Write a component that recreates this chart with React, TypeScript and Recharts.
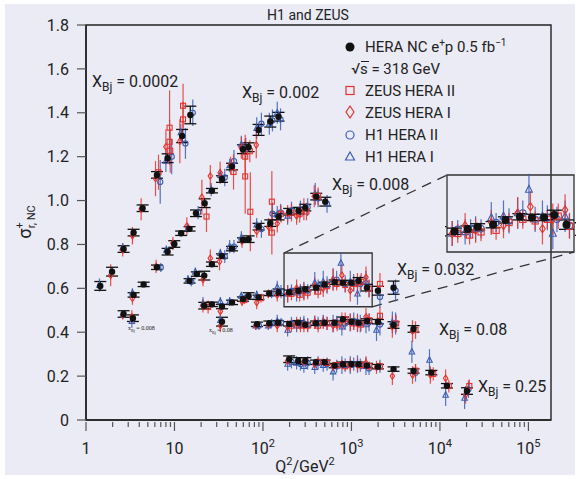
import React from 'react';
import {
  ScatterChart,
  Scatter,
  XAxis,
  YAxis,
  ErrorBar,
  ReferenceArea,
  ReferenceLine,
} from 'recharts';

type Pt = [number, number, number]; // Q2, sigma_r, error

// combined HERA NC e+p (black), grouped by x_Bj bin
const heraNC: Pt[] = [
  // 0.0002
  [1.45, 0.611, 0.02], [1.97, 0.676, 0.02], [2.66, 0.779, 0.015], [3.45, 0.854, 0.015], [4.36, 0.965, 0.015],
  [6.34, 1.117, 0.015], [8.36, 1.193, 0.02], [12.2, 1.294, 0.03], [15.1, 1.39, 0.04],
  // 0.002
  [3.45, 0.57, 0.01], [4.48, 0.618, 0.01], [6.34, 0.696, 0.01], [8.36, 0.767, 0.015], [9.95, 0.802, 0.015],
  [11.9, 0.851, 0.01], [14.8, 0.871, 0.01], [17.5, 0.942, 0.015], [21.9, 0.988, 0.02], [26.5, 1.045, 0.01],
  [34.4, 1.098, 0.015], [44.7, 1.155, 0.015], [59.4, 1.234, 0.02], [68.8, 1.243, 0.02], [89.2, 1.322, 0.025],
  [121, 1.36, 0.025], [150, 1.382, 0.02],
  // 0.008
  [2.66, 0.483, 0.015], [3.39, 0.464, 0.015], [14.8, 0.634, 0.01], [17.9, 0.665, 0.01], [21.7, 0.658, 0.02],
  [26.5, 0.71, 0.01], [34.4, 0.747, 0.01], [44.7, 0.781, 0.01], [59.4, 0.82, 0.01], [68.8, 0.824, 0.015],
  [89.2, 0.881, 0.015], [121, 0.897, 0.015], [150, 0.927, 0.015], [198, 0.949, 0.015], [252, 0.954, 0.015],
  [301, 0.968, 0.015], [400, 1.018, 0.015], [506, 0.995, 0.02],
  // 0.032
  [21.7, 0.521, 0.015], [26.5, 0.527, 0.01], [34.4, 0.517, 0.01], [44.7, 0.536, 0.01], [59.4, 0.551, 0.01],
  [68.8, 0.565, 0.015], [89, 0.559, 0.01], [118, 0.577, 0.01], [150, 0.582, 0.015], [198, 0.582, 0.01],
  [252, 0.589, 0.01], [301, 0.596, 0.01], [398, 0.603, 0.01], [497, 0.618, 0.01], [645, 0.628, 0.01],
  [802, 0.626, 0.01], [1000, 0.626, 0.01], [1203, 0.634, 0.015], [1497, 0.603, 0.015], [1992, 0.589, 0.02],
  [2990, 0.603, 0.03],
  // 0.08
  [34.4, 0.448, 0.02], [85.5, 0.436, 0.01], [118, 0.441, 0.01], [148, 0.443, 0.01], [198, 0.438, 0.01],
  [250, 0.443, 0.01], [301, 0.434, 0.01], [398, 0.441, 0.01], [497, 0.443, 0.01], [645, 0.443, 0.01],
  [802, 0.459, 0.01], [1000, 0.448, 0.01], [1203, 0.443, 0.01], [1497, 0.451, 0.01], [1992, 0.448, 0.01],
  [2990, 0.433, 0.015], [5030, 0.415, 0.015],
  // 0.25
  [198, 0.277, 0.015], [250, 0.269, 0.015], [301, 0.269, 0.015], [398, 0.263, 0.01], [497, 0.263, 0.01],
  [645, 0.248, 0.01], [802, 0.254, 0.01], [1000, 0.255, 0.01], [1203, 0.254, 0.01], [1497, 0.248, 0.01],
  [1992, 0.243, 0.01], [2990, 0.232, 0.01], [5030, 0.223, 0.01], [8000, 0.216, 0.01], [12000, 0.156, 0.01],
  [20200, 0.132, 0.015],
];

const zeusHera2: Pt[] = [
  [12.5, 1.432, 0.1], [12.5, 1.37, 0.08], [8.8, 1.332, 0.17], [8.8, 1.268, 0.1], [8.95, 1.227, 0.1], [6.6, 1.129, 0.08],
  [23, 0.927, 0.07], [46.5, 1.13, 0.08], [63, 1.2, 0.1], [63, 1.11, 0.17], [71, 1.225, 0.05],
  [72, 0.949, 0.18], [126, 0.995, 0.14], [126, 0.854, 0.1], [160, 0.94, 0.04], [210, 0.945, 0.04],
  [260, 0.94, 0.04], [310, 0.95, 0.04], [420, 1.02, 0.04],
  [24, 0.515, 0.03], [62, 0.548, 0.02], [95, 0.555, 0.02], [210, 0.575, 0.03], [260, 0.57, 0.03],
  [320, 0.58, 0.03], [420, 0.585, 0.03], [530, 0.61, 0.03], [680, 0.62, 0.03], [850, 0.615, 0.03],
  [1060, 0.62, 0.03], [1290, 0.63, 0.04], [1580, 0.598, 0.04], [2100, 0.62, 0.05],
  [210, 0.43, 0.03], [265, 0.43, 0.03], [320, 0.43, 0.03], [420, 0.43, 0.03], [530, 0.44, 0.03],
  [690, 0.435, 0.03], [850, 0.46, 0.03], [1060, 0.44, 0.03], [1280, 0.435, 0.03], [1590, 0.455, 0.03],
  [2100, 0.475, 0.04], [3200, 0.44, 0.04], [5300, 0.41, 0.04],
  [420, 0.265, 0.02], [530, 0.26, 0.02], [690, 0.25, 0.02], [850, 0.245, 0.02], [1280, 0.25, 0.02],
  [1590, 0.245, 0.02], [2100, 0.245, 0.02], [5300, 0.225, 0.03], [8400, 0.21, 0.03], [12600, 0.155, 0.03],
  [21500, 0.155, 0.03],
];

const zeusHera1: Pt[] = [
  [1.9, 0.66, 0.05], [2.6, 0.775, 0.03], [3.35, 0.84, 0.04], [4.2, 0.96, 0.05], [6.1, 1.1, 0.08],
  [8.0, 1.245, 0.08], [11.5, 1.27, 0.1],
  [3.35, 0.555, 0.03], [6.2, 0.7, 0.03], [9.6, 0.805, 0.03], [13.8, 0.884, 0.04], [20.4, 1.015, 0.08],
  [25.4, 1.112, 0.05], [32.8, 1.127, 0.05], [43, 1.16, 0.04], [57, 1.24, 0.05], [84, 1.253, 0.06],
  [2.6, 0.478, 0.02], [3.3, 0.47, 0.03], [21, 0.64, 0.03], [25.4, 0.737, 0.04], [32.3, 0.722, 0.04],
  [58, 0.815, 0.03], [85, 0.86, 0.03], [116, 0.88, 0.04], [145, 0.895, 0.04], [190, 0.94, 0.04],
  [240, 0.93, 0.04], [290, 0.96, 0.05], [380, 1.02, 0.05],
  [21, 0.52, 0.03], [33, 0.495, 0.03], [58, 0.54, 0.02], [85, 0.535, 0.03], [115, 0.575, 0.02],
  [145, 0.57, 0.03], [190, 0.575, 0.04], [240, 0.6, 0.04], [290, 0.585, 0.04], [385, 0.61, 0.04],
  [480, 0.6, 0.04], [620, 0.64, 0.05], [780, 0.66, 0.05], [970, 0.59, 0.05], [1170, 0.62, 0.05],
  [1460, 0.65, 0.05],
  [33, 0.43, 0.03], [83, 0.43, 0.02], [115, 0.435, 0.02], [145, 0.43, 0.03], [190, 0.425, 0.03],
  [240, 0.44, 0.03], [290, 0.43, 0.03], [385, 0.445, 0.03], [480, 0.445, 0.03], [620, 0.43, 0.03],
  [780, 0.45, 0.04], [970, 0.445, 0.04], [1170, 0.44, 0.04], [1460, 0.47, 0.04], [2900, 0.425, 0.05],
  [4900, 0.405, 0.05],
  [190, 0.27, 0.02], [290, 0.265, 0.02], [385, 0.255, 0.02], [620, 0.245, 0.02], [780, 0.255, 0.02],
  [970, 0.25, 0.03], [1170, 0.25, 0.03], [1460, 0.26, 0.03], [1920, 0.24, 0.03], [2900, 0.2, 0.04],
  [4900, 0.205, 0.04], [7800, 0.205, 0.04], [11600, 0.19, 0.04], [19500, 0.115, 0.04],
];

const h1Hera2: Pt[] = [
  [6.9, 1.085, 0.1], [9.3, 1.2, 0.08], [13.3, 1.26, 0.07], [16.1, 1.4, 0.06],
  [7.0, 0.695, 0.02], [18.5, 0.945, 0.03], [37, 1.105, 0.04], [47, 1.18, 0.05], [64, 1.235, 0.05],
  [96, 1.35, 0.05], [128, 1.365, 0.05], [158, 1.37, 0.05],
  [15.5, 0.63, 0.02], [37, 0.745, 0.03], [47, 0.79, 0.03], [96, 0.87, 0.04], [128, 0.94, 0.05],
  [158, 0.945, 0.04], [210, 0.955, 0.04], [265, 0.96, 0.04], [320, 0.97, 0.04], [420, 1.01, 0.04],
  [530, 0.985, 0.04],
  [63, 0.555, 0.02], [125, 0.575, 0.02], [160, 0.585, 0.03], [210, 0.588, 0.03], [265, 0.59, 0.03],
  [320, 0.59, 0.03], [420, 0.61, 0.03], [530, 0.615, 0.04], [680, 0.64, 0.04], [850, 0.62, 0.04],
  [1060, 0.625, 0.04], [1260, 0.62, 0.04], [1580, 0.6, 0.04], [2100, 0.56, 0.05], [3150, 0.59, 0.05],
  [90, 0.43, 0.02], [125, 0.44, 0.02], [160, 0.445, 0.02], [210, 0.44, 0.03], [265, 0.44, 0.03],
  [320, 0.435, 0.03], [420, 0.44, 0.03], [530, 0.44, 0.03], [680, 0.445, 0.03], [850, 0.44, 0.03],
  [1060, 0.45, 0.04], [1260, 0.44, 0.04], [1580, 0.445, 0.04], [2100, 0.435, 0.05], [3150, 0.44, 0.05],
  [210, 0.265, 0.03], [265, 0.255, 0.03], [320, 0.26, 0.03], [420, 0.26, 0.03], [530, 0.255, 0.03],
  [680, 0.245, 0.03], [850, 0.25, 0.03], [1060, 0.255, 0.03], [1260, 0.25, 0.03], [1580, 0.235, 0.03],
  [2100, 0.245, 0.03], [5300, 0.215, 0.04], [21000, 0.14, 0.04],
];

const h1Hera1: Pt[] = [
  [1.42, 0.615, 0.03], [2.6, 0.785, 0.02], [8.0, 1.18, 0.05], [11.8, 1.31, 0.04],
  [3.35, 0.58, 0.02], [8.1, 0.775, 0.02], [14.2, 0.875, 0.02], [26, 1.05, 0.03], [33, 1.115, 0.03],
  [42, 1.16, 0.03], [57, 1.255, 0.04], [85, 1.33, 0.05], [118, 1.35, 0.05], [145, 1.4, 0.05],
  [2.6, 0.48, 0.02], [3.3, 0.45, 0.03], [14.2, 0.64, 0.02], [17.2, 0.675, 0.02], [33, 0.76, 0.02],
  [42, 0.79, 0.03], [57, 0.83, 0.03], [85, 0.89, 0.03], [145, 0.935, 0.04], [190, 0.93, 0.04],
  [390, 1.03, 0.05],
  [21, 0.53, 0.03], [33, 0.54, 0.02], [42, 0.54, 0.02], [57, 0.565, 0.02], [85, 0.57, 0.02],
  [145, 0.605, 0.03], [190, 0.575, 0.04], [240, 0.58, 0.04], [290, 0.59, 0.04], [385, 0.625, 0.05],
  [480, 0.63, 0.05], [760, 0.715, 0.05], [620, 0.64, 0.05], [970, 0.63, 0.05], [1170, 0.575, 0.05],
  [1460, 0.63, 0.05],
  [33, 0.455, 0.03], [83, 0.43, 0.02], [115, 0.43, 0.02], [145, 0.45, 0.03], [190, 0.41, 0.03],
  [240, 0.43, 0.03], [290, 0.445, 0.03], [385, 0.445, 0.03], [480, 0.45, 0.03], [620, 0.44, 0.04],
  [780, 0.425, 0.04], [970, 0.445, 0.04], [1170, 0.445, 0.04], [1460, 0.435, 0.04], [1920, 0.41, 0.05],
  [2900, 0.445, 0.05],
  [190, 0.255, 0.03], [240, 0.26, 0.03], [290, 0.245, 0.03], [385, 0.24, 0.03], [480, 0.25, 0.03],
  [620, 0.22, 0.04], [780, 0.25, 0.04], [970, 0.25, 0.04], [1170, 0.255, 0.04], [1460, 0.245, 0.04],
  [4820, 0.311, 0.05], [7620, 0.273, 0.05], [11600, 0.114, 0.05], [19000, 0.1, 0.05],
];

const yTicks = [0, 0.2, 0.4, 0.6, 0.8, 1.0, 1.2, 1.4, 1.6, 1.8];
const xDecades = [1, 10, 100, 1000, 10000, 100000];
const xDecadeLabels: [string, string][] = [['1', ''], ['10', ''], ['10', '2'], ['10', '3'], ['10', '4'], ['10', '5']];
const xTicks = [...xDecades, ...xDecades.slice(0, 5).flatMap((d) => [2, 3, 4, 5, 6, 7, 8, 9].map((m) => m * d))];

const binNames = ['0.0002', '0.002', '0.008', '0.032', '0.08', '0.25'];
const legendNames = ['ZEUS HERA II', 'ZEUS HERA I', 'H1 HERA II', 'H1 HERA I'];

// layout
const W = 580;
const H = 479;
const PLOT = { left: 86, top: 25, right: 551, bottom: 420 };
const Q2_MAX = 1.8e5;
const SIG_MAX = 1.8;
const ZOOM_Q2: [number, number] = [173, 1715];
const ZOOM_SIG: [number, number] = [0.516, 0.761];
const INSET = { x: 447, y: 175, w: 127, h: 77 };
const binLabelPos = [[92, 87], [242, 98], [332, 190], [397, 275], [439, 335], [478, 392]];

const INK = '#222';
const RED = '#e5322c';
const BLUE = '#3a5db3';
const BLACK = '#111';
const BG = '#ebebf5';
const FONT = 'Roboto, "Liberation Sans", sans-serif';

const pxToQ2 = (px: number) =>
  10 ** (((px - PLOT.left) / (PLOT.right - PLOT.left)) * Math.log10(Q2_MAX));
const pxToSig = (py: number) => ((PLOT.bottom - py) / (PLOT.bottom - PLOT.top)) * SIG_MAX;

const rows = (pts: Pt[]) => pts.map(([q2, s, err]) => ({ q2, s, err }));

const dotShape = (r: number) => (p: any) => <circle cx={p.cx} cy={p.cy} r={r} fill={BLACK} />;
const squareShape = (a: number) => (p: any) => (
  <rect x={p.cx - a / 2} y={p.cy - a / 2} width={a} height={a} fill="none" stroke={RED} strokeWidth={1.1} />
);
const diamondShape = (w: number, h: number) => (p: any) => (
  <polygon
    points={`${p.cx},${p.cy - h / 2} ${p.cx + w / 2},${p.cy} ${p.cx},${p.cy + h / 2} ${p.cx - w / 2},${p.cy}`}
    fill="none"
    stroke={RED}
    strokeWidth={1.1}
  />
);
const ringShape = (r: number) => (p: any) => (
  <circle cx={p.cx} cy={p.cy} r={r} fill="none" stroke={BLUE} strokeWidth={1.1} />
);
const triShape = (a: number) => (p: any) => (
  <polygon
    points={`${p.cx},${p.cy - a * 0.6} ${p.cx + a / 2},${p.cy + a * 0.4} ${p.cx - a / 2},${p.cy + a * 0.4}`}
    fill="none"
    stroke={BLUE}
    strokeWidth={1.1}
  />
);

function seriesList(k: number) {
  const eb = (color: string, cap: number) => (
    <ErrorBar dataKey="err" direction="y" width={cap} stroke={color} strokeWidth={1.2} strokeOpacity={0.85} />
  );
  return [
    <Scatter key="h1" data={rows(h1Hera1)} shape={triShape(5.5 * k)} isAnimationActive={false}>
      {eb(BLUE, 0)}
    </Scatter>,
    <Scatter key="h2" data={rows(h1Hera2)} shape={ringShape(2.6 * k)} isAnimationActive={false}>
      {eb(BLUE, 0)}
    </Scatter>,
    <Scatter key="z1" data={rows(zeusHera1)} shape={diamondShape(4.5 * k, 6.5 * k)} isAnimationActive={false}>
      {eb(RED, 0)}
    </Scatter>,
    <Scatter key="z2" data={rows(zeusHera2)} shape={squareShape(5 * k)} isAnimationActive={false}>
      {eb(RED, 0)}
    </Scatter>,
    <Scatter key="hera" data={rows(heraNC)} shape={dotShape(3.2 * k)} isAnimationActive={false}>
      <ErrorBar dataKey="err" direction="y" width={6 * k} stroke={BLACK} strokeWidth={1.3} />
    </Scatter>,
  ];
}

const XTick = (props: any) => {
  const { x, y, payload } = props;
  const i = xDecades.indexOf(payload.value);
  const major = i >= 0;
  return (
    <g>
      <line x1={x} x2={x} y1={y} y2={y + (major ? 9 : 5)} stroke="#555" strokeWidth={1.2} />
      {major && (
        <text x={x} y={y + 32} textAnchor="middle" fontSize={16} fill={INK} fontFamily={FONT}>
          {xDecadeLabels[i][0]}
          {xDecadeLabels[i][1] && (
            <tspan dy={-7} fontSize={11}>
              {xDecadeLabels[i][1]}
            </tspan>
          )}
        </text>
      )}
    </g>
  );
};

const XBj = ({ x, y, v }: { x: number; y: number; v: string }) => (
  <text x={x} y={y} fontSize={16} fill={INK}>
    X<tspan fontSize={12} dy={4}>Bj</tspan>
    <tspan dy={-4}> = {v}</tspan>
  </text>
);

export default function App() {
  const insetTL = { x: pxToQ2(INSET.x), y: pxToSig(INSET.y) };
  const insetBR = { x: pxToQ2(INSET.x + INSET.w), y: pxToSig(INSET.y + INSET.h) };
  const legendY = [96, 118, 140, 162];

  return (
    <div style={{ position: 'absolute', left: 0, top: 0, width: W, height: H, background: '#fff', fontFamily: FONT }}>
      <div style={{ position: 'absolute', left: 5, top: 4, width: W - 10, height: H - 8, background: BG }} />
      <div style={{ position: 'absolute', left: 0, top: 0 }}>
        <ScatterChart
          width={W}
          height={H}
          margin={{ top: PLOT.top, right: W - PLOT.right, bottom: 19, left: PLOT.left - 60 }}
        >
          <XAxis
            dataKey="q2"
            type="number"
            scale="log"
            domain={[1, Q2_MAX]}
            allowDataOverflow
            ticks={xTicks}
            interval={0}
            tickLine={false}
            tickSize={0}
            height={40}
            tick={<XTick />}
            axisLine={{ stroke: INK, strokeWidth: 1.5 }}
          />
          <YAxis
            dataKey="s"
            type="number"
            domain={[0, SIG_MAX]}
            ticks={yTicks}
            interval={0}
            width={60}
            tickSize={9}
            tickMargin={8}
            tickFormatter={(v: number) => (v === 0 ? '0' : v.toFixed(1))}
            tick={{ fontSize: 16, fill: INK, fontFamily: FONT }}
            tickLine={{ stroke: '#555', strokeWidth: 1.2 }}
            axisLine={{ stroke: INK, strokeWidth: 1.5 }}
          />
          <ReferenceArea x1={1} x2={Q2_MAX} y1={0} y2={SIG_MAX} fill="none" stroke={INK} strokeWidth={1.4} />
          <ReferenceArea
            x1={ZOOM_Q2[0]}
            x2={ZOOM_Q2[1]}
            y1={ZOOM_SIG[0]}
            y2={ZOOM_SIG[1]}
            fill="none"
            stroke="#333"
            strokeWidth={1.3}
          />
          <ReferenceLine
            segment={[{ x: ZOOM_Q2[0], y: ZOOM_SIG[1] }, insetTL]}
            ifOverflow="visible"
            stroke="#333"
            strokeWidth={1.3}
            strokeDasharray="10 7"
          />
          <ReferenceLine
            segment={[{ x: ZOOM_Q2[1], y: ZOOM_SIG[0] }, insetBR]}
            ifOverflow="visible"
            stroke="#333"
            strokeWidth={1.3}
            strokeDasharray="10 7"
          />
          {seriesList(1)}
        </ScatterChart>
      </div>

      <div style={{ position: 'absolute', left: INSET.x - 2, top: INSET.y - 2 }}>
        <ScatterChart width={INSET.w + 4} height={INSET.h + 4} margin={{ top: 2, right: 2, bottom: 2, left: 2 }}>
          <XAxis dataKey="q2" type="number" scale="log" domain={ZOOM_Q2} allowDataOverflow hide />
          <YAxis dataKey="s" type="number" domain={ZOOM_SIG} allowDataOverflow hide />
          {seriesList(1.25)}
          <ReferenceArea
            x1={ZOOM_Q2[0]}
            x2={ZOOM_Q2[1]}
            y1={ZOOM_SIG[0]}
            y2={ZOOM_SIG[1]}
            fill="none"
            stroke="#333"
            strokeWidth={1.3}
          />
        </ScatterChart>
      </div>

      <svg
        width={W}
        height={H}
        style={{ position: 'absolute', left: 0, top: 0, pointerEvents: 'none' }}
        fontFamily={FONT}
      >
        <text x={308} y={20} textAnchor="middle" fontSize={14} fill={INK}>
          H1 and ZEUS
        </text>
        <text x={305} y={472} textAnchor="middle" fontSize={16} fill={INK}>
          Q<tspan dy={-7} fontSize={11}>2</tspan>
          <tspan dy={7}>/GeV</tspan>
          <tspan dy={-7} fontSize={11}>2</tspan>
        </text>
        <text transform="translate(31,222) rotate(-90)" textAnchor="middle" fontSize={18} fill={INK}>
          σ<tspan dy={-8} fontSize={11}>+</tspan>
          <tspan dx={-6} dy={12} fontSize={11}>r, NC</tspan>
        </text>

        {binNames.map((v, i) => (
          <XBj key={v} x={binLabelPos[i][0]} y={binLabelPos[i][1]} v={v} />
        ))}
        <text x={128} y={330} fontSize={6} fontFamily="serif" fill={INK}>
          x<tspan dy={1.5} fontSize={4}>Bj</tspan>
          <tspan dy={-1.5}> = 0.008</tspan>
        </text>
        <text x={209} y={332} fontSize={6} fontFamily="serif" fill={INK}>
          x<tspan dy={1.5} fontSize={4}>Bj</tspan>
          <tspan dy={-1.5}> = 0.08</tspan>
        </text>

        {/* legend */}
        <circle cx={350} cy={47} r={4.5} fill={BLACK} />
        <text x={365} y={52} fontSize={15} fill={INK}>
          HERA NC e<tspan dy={-6} fontSize={10}>+</tspan>
          <tspan dy={6}>p 0.5 fb</tspan>
          <tspan dy={-6} fontSize={10}>−1</tspan>
        </text>
        <text x={351} y={74} fontSize={15} fill={INK}>
          √s = 318 GeV
        </text>
        <line x1={361} x2={369} y1={61.5} y2={61.5} stroke={INK} strokeWidth={1} />
        <rect x={346} y={86.5} width={8} height={8} fill="none" stroke={RED} strokeWidth={1.2} />
        <polygon points="350,106 354,112 350,118 346,112" fill="none" stroke={RED} strokeWidth={1.2} />
        <circle cx={350} cy={135} r={4} fill="none" stroke={BLUE} strokeWidth={1.2} />
        <polygon points="350,152 354.5,160 345.5,160" fill="none" stroke={BLUE} strokeWidth={1.2} />
        {legendNames.map((n, i) => (
          <text key={n} x={365} y={legendY[i]} fontSize={15} fill={INK}>
            {n}
          </text>
        ))}
      </svg>
    </div>
  );
}
